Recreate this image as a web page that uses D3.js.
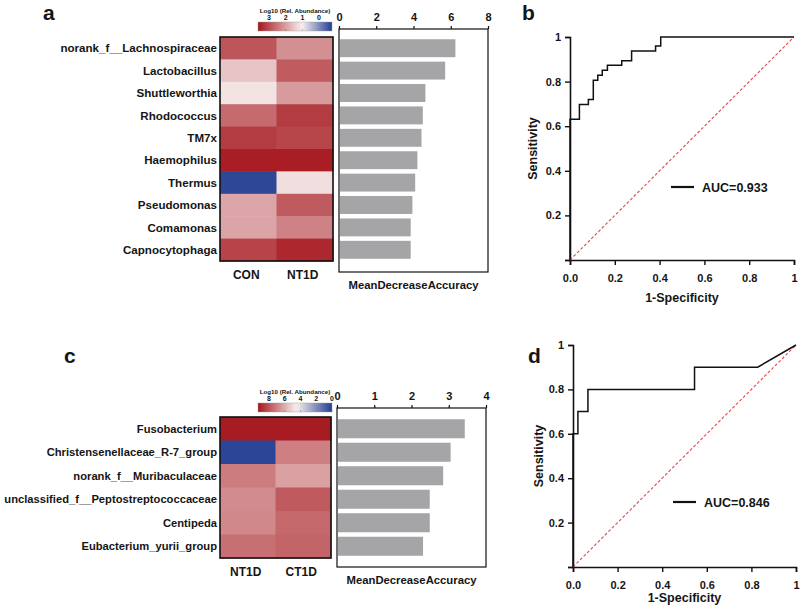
<!DOCTYPE html>
<html>
<head>
<meta charset="utf-8">
<script src="https://cdn.jsdelivr.net/npm/d3@7"></script>
<style>
html,body{margin:0;padding:0;background:#fff;}
svg text{font-family:"Liberation Sans",Arial,sans-serif;font-weight:bold;fill:#151515;}
</style>
</head>
<body>
<svg id="chart" width="800" height="608"></svg>
<script>
// ---------- DATA ----------
// Panel a
const taxaA = ["norank_f__Lachnospiraceae","Lactobacillus","Shuttleworthia","Rhodococcus","TM7x","Haemophilus","Thermus","Pseudomonas","Comamonas","Capnocytophaga"];
const groupsA = ["CON","NT1D"];
const abundA_CON  = [2.87,1.53,1.16,2.63,3.19,3.55,-0.7,1.90,1.92,3.09];
const abundA_NT1D = [2.17,2.80,2.04,3.19,3.07,3.55,1.22,2.82,2.34,3.43];
const mdaA = [6.25,5.70,4.64,4.50,4.43,4.21,4.09,3.94,3.85,3.85];
const legendTicksA = [3,2,1,0];
const barTicksA = [0,2,4,6,8];
// Panel b
const rocB_fpr = [0,0,0.042,0.042,0.082,0.082,0.104,0.104,0.124,0.124,0.144,0.144,0.167,0.167,0.231,0.231,0.275,0.275,0.382,0.382,0.405,0.405,1];
const rocB_tpr = [0,0.631,0.631,0.697,0.697,0.72,0.72,0.806,0.806,0.828,0.828,0.851,0.851,0.873,0.873,0.893,0.893,0.937,0.937,0.96,0.96,1,1];
const aucB = "AUC=0.933";
// Panel c
const taxaC = ["Fusobacterium","Christensenellaceae_R-7_group","norank_f__Muribaculaceae","unclassified_f__Peptostreptococcaceae","Centipeda","Eubacterium_yurii_group"];
const groupsC = ["NT1D","CT1D"];
const abundC_NT1D = [9.26,0.2,7.11,6.75,6.84,7.38];
const abundC_CT1D = [9.26,7.04,6.30,7.87,7.56,7.65];
const mdaC = [3.43,3.05,2.85,2.49,2.49,2.31];
const legendTicksC = [8,6,4,2,0];
const barTicksC = [0,1,2,3,4];
// Panel d
const rocD_fpr = [0,0,0.022,0.022,0.067,0.067,0.545,0.545,0.828,1];
const rocD_tpr = [0,0.6,0.6,0.7,0.7,0.8,0.8,0.9,0.9,1];
const aucD = "AUC=0.846";
const rocTicks = [0,0.2,0.4,0.6,0.8,1];

// ---------- DRAW ----------
const svg = d3.select("#chart");
const RED = "#a5161c", WHITE = "#f8f0f0", BLUE = "#233d92";

function panelLetter(x, y, t){
  svg.append("text").attr("x",x).attr("y",y).attr("font-size",21).text(t);
}

function heatPanel(cfg){
  const g = svg.append("g");
  const color = d3.scaleLinear().domain(cfg.cdomain).range([RED,WHITE,BLUE]).interpolate(d3.interpolateRgb).clamp(true);
  const x = d3.scaleBand().domain(cfg.groups).range([cfg.hx0,cfg.hx1]);
  const y = d3.scaleBand().domain(cfg.taxa).range([cfg.hy0,cfg.hy1]);
  cfg.groups.forEach((grp,gi)=>{
    g.selectAll(null).data(cfg.values[gi]).enter().append("rect")
      .attr("x",x(grp)).attr("y",(d,i)=>y(cfg.taxa[i]))
      .attr("width",x.bandwidth()+0.5).attr("height",y.bandwidth()+0.5)
      .attr("fill",d=>color(d));
  });
  g.append("rect").attr("x",cfg.hx0).attr("y",cfg.hy0).attr("width",cfg.hx1-cfg.hx0).attr("height",cfg.hy1-cfg.hy0)
    .attr("fill","none").attr("stroke","#111").attr("stroke-width",1.6);
  // row labels
  g.selectAll(null).data(cfg.taxa).enter().append("text")
    .attr("x",cfg.hx0-3).attr("y",d=>y(d)+y.bandwidth()/2).attr("dy","0.36em")
    .attr("text-anchor","end").attr("font-size",cfg.font).text(d=>d);
  // column labels
  g.selectAll(null).data(cfg.groups).enter().append("text")
    .attr("x",d=>x(d)+x.bandwidth()/2 - 2).attr("y",cfg.colLabelY)
    .attr("text-anchor","middle").attr("font-size",12).text(d=>d);
  // colour legend
  const lx = d3.scaleLinear().domain(cfg.ldomain).range([cfg.lx0,cfg.lx1]);
  const gid = "grad"+cfg.id;
  const grad = svg.append("defs").append("linearGradient").attr("id",gid).attr("x1","0%").attr("x2","100%");
  const d0 = cfg.barDomain;
  d3.range(0,1.0001,0.05).forEach(t=>{
    const v = d0[0] + (d0[1]-d0[0])*t;
    grad.append("stop").attr("offset",(t*100)+"%").attr("stop-color",color(v));
  });
  g.append("rect").attr("x",cfg.lx0b).attr("y",cfg.ly).attr("width",cfg.lx1b-cfg.lx0b).attr("height",9)
    .attr("fill","url(#"+gid+")").attr("stroke","#999").attr("stroke-width",0.4);
  g.selectAll(null).data(cfg.lticks).enter().append("text")
    .attr("x",d=>lx(d)).attr("y",cfg.ly-2).attr("text-anchor","middle").attr("font-size",7).text(d=>d);
  g.selectAll(null).data(cfg.lticks).enter().append("line")
    .attr("x1",d=>lx(d)).attr("x2",d=>lx(d)).attr("y1",cfg.ly+7).attr("y2",cfg.ly+9)
    .attr("stroke","#777").attr("stroke-width",0.5);
  g.append("text").attr("x",(cfg.lx0b+cfg.lx1b)/2).attr("y",cfg.ly-9).attr("text-anchor","middle")
    .attr("font-size",6.2).text("Log10 (Rel. Abundance)");

  // bar chart
  const bx = d3.scaleLinear().domain([cfg.bticks[0],cfg.bticks[cfg.bticks.length-1]]).range([cfg.bx0,cfg.bx1]);
  const by = d3.scaleBand().domain(cfg.taxa).range([cfg.hy0,cfg.hy1]).paddingInner(cfg.pad).paddingOuter(cfg.pad/2);
  g.append("rect").attr("x",cfg.bx0).attr("y",cfg.by0).attr("width",cfg.bx1-cfg.bx0).attr("height",cfg.by1-cfg.by0)
    .attr("fill","none").attr("stroke","#111").attr("stroke-width",1.2);
  g.selectAll(null).data(cfg.mda).enter().append("rect")
    .attr("x",cfg.bx0+1).attr("y",(d,i)=>by(cfg.taxa[i]))
    .attr("width",d=>bx(d)-cfg.bx0-1).attr("height",by.bandwidth()).attr("fill","#a5a5a7");
  const ax = g.append("g").attr("transform",`translate(0,${cfg.by0})`)
    .call(d3.axisTop(bx).tickValues(cfg.bticks).tickSize(3).tickPadding(5).tickFormat(d3.format("d")));
  ax.select(".domain").remove();
  ax.selectAll("line").attr("stroke","#111").attr("stroke-width",1.2);
  ax.selectAll("text").attr("font-size",11).attr("fill","#151515").attr("font-family","Liberation Sans, Arial, sans-serif");
  g.append("text").attr("x",(cfg.bx0+cfg.bx1)/2).attr("y",cfg.mdaY).attr("text-anchor","middle").attr("font-size",11.3)
    .text("MeanDecreaseAccuracy");
}

function rocPanel(cfg){
  const g = svg.append("g");
  const x = d3.scaleLinear().domain([0,1]).range([cfg.x0,cfg.x1]);
  const y = d3.scaleLinear().domain([0,1]).range([cfg.y0,cfg.y1]);
  const fmt = d=> d===1 ? "1" : d3.format(".1f")(d);
  const xa = g.append("g").attr("transform",`translate(0,${cfg.y0})`)
    .call(d3.axisBottom(x).tickValues(rocTicks).tickSize(5).tickPadding(9).tickFormat(fmt));
  const ya = g.append("g").attr("transform",`translate(${cfg.x0},0)`)
    .call(d3.axisLeft(y).tickValues(rocTicks).tickSize(5).tickPadding(4).tickFormat(d=>d===0?"":fmt(d)));
  [xa,ya].forEach(a=>{
    a.select(".domain").attr("stroke","#111").attr("stroke-width",1.6);
    a.selectAll("line").attr("stroke","#111").attr("stroke-width",1.4);
    a.selectAll("text").attr("font-size",11).attr("fill","#151515").attr("font-family","Liberation Sans, Arial, sans-serif");
  });
  // diagonal
  g.append("line").attr("x1",x(0)).attr("y1",y(0)).attr("x2",x(1)).attr("y2",y(1))
    .attr("stroke","#e0484e").attr("stroke-width",1.1).attr("stroke-dasharray","3,2");
  const pts = cfg.fpr.map((f,i)=>[f,cfg.tpr[i]]);
  g.append("path").datum(pts).attr("d",d3.line().x(d=>x(d[0])).y(d=>y(d[1])))
    .attr("fill","none").attr("stroke","#111").attr("stroke-width",1.5);
  // legend
  g.append("line").attr("x1",cfg.legX).attr("x2",cfg.legX+23).attr("y1",cfg.legY).attr("y2",cfg.legY)
    .attr("stroke","#111").attr("stroke-width",2.2);
  g.append("text").attr("x",cfg.legX+31).attr("y",cfg.legY).attr("dy","0.36em").attr("font-size",12.5).text(cfg.auc);
  // axis titles
  g.append("text").attr("transform",`translate(${cfg.ylabX},${(cfg.y0+cfg.y1)/2}) rotate(-90)`)
    .attr("text-anchor","middle").attr("font-size",12.5).text("Sensitivity");
  g.append("text").attr("x",(cfg.x0+cfg.x1)/2).attr("y",cfg.xlabY).attr("text-anchor","middle")
    .attr("font-size",12.5).text("1-Specificity");
}

// Panel a
panelLetter(43,20,"a");
heatPanel({id:"A", taxa:taxaA, groups:groupsA, values:[abundA_CON,abundA_NT1D], font:11.6,
  cdomain:[3.65,1.0,-0.8], barDomain:[3.65,-0.8],
  hx0:220,hx1:333,hy0:37,hy1:261, colLabelY:279,
  ldomain:[3,0], lx0:269, lx1:319, lx0b:258, lx1b:332, ly:22, lticks:legendTicksA,
  bx0:339,bx1:488,by0:29,by1:272, bticks:barTicksA, mda:mdaA, pad:0.2, mdaY:289});
// Panel b
panelLetter(522,20,"b");
rocPanel({x0:570,x1:794,y0:260,y1:37, fpr:rocB_fpr, tpr:rocB_tpr, auc:aucB, legX:671, legY:187, ylabX:537, xlabY:302});
// Panel c
panelLetter(64,363,"c");
heatPanel({id:"C", taxa:taxaC, groups:groupsC, values:[abundC_NT1D,abundC_CT1D], font:11.2,
  cdomain:[9.4,4.5,0], barDomain:[9.4,0],
  hx0:220,hx1:331,hy0:417,hy1:558, colLabelY:576,
  ldomain:[8,0], lx0:269, lx1:332, lx0b:258, lx1b:332, ly:403, lticks:legendTicksC,
  bx0:337,bx1:486,by0:408,by1:567, bticks:barTicksC, mda:mdaC, pad:0.19, mdaY:584});
// Panel d
panelLetter(528,363,"d");
rocPanel({x0:573,x1:796,y0:567,y1:345, fpr:rocD_fpr, tpr:rocD_tpr, auc:aucD, legX:673, legY:502, ylabX:543, xlabY:602});
</script>
</body>
</html>
